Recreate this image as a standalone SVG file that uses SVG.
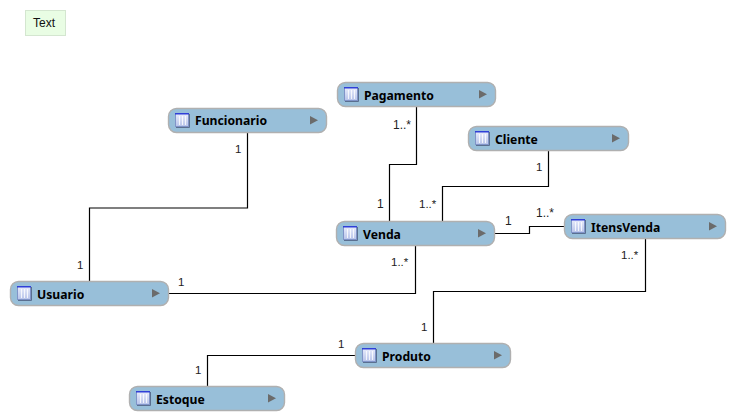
<svg xmlns="http://www.w3.org/2000/svg" width="735" height="420" viewBox="0 0 735 420">
<style>
.box{fill:#98bfd9;stroke:#b0b0b0;stroke-width:1.4}
.name{font:bold 12.2px "Noto Sans","DejaVu Sans",sans-serif;fill:#000}
.c{fill:none;stroke:#000;stroke-width:1.2}
.l{font:11.500px "Liberation Sans",Arial,sans-serif;fill:#222}
.s{font:12px "Liberation Sans",Arial,sans-serif;fill:#222}
.arr{fill:#6b6b6b}
</style>
<defs>
<linearGradient id="ig" x1="0" y1="0" x2="0" y2="1"><stop offset="0" stop-color="#e8ecfb"/><stop offset="1" stop-color="#b8c4ea"/></linearGradient>
<g id="icon">
<rect x="0.5" y="0.5" width="13" height="13" fill="url(#ig)" stroke="#8094c8"/>
<rect x="0" y="0" width="14" height="1.500" fill="#2f3fd8"/>
<path d="M4.500 3V12M7.500 3V12M10.500 3V12" stroke="#fff" stroke-width="1" opacity="0.8"/>
<path d="M1 14.500H14.500V1" fill="none" stroke="#5a6f90" stroke-width="1"/>
</g>
<path id="tri" class="arr" d="M0 0L8 4.250L0 8.500Z"/>
</defs>
<rect width="735" height="420" fill="#fff"/>
<g id="note"><rect x="25.500" y="10.500" width="40" height="25" fill="#e9fde4" stroke="#d4e6d0"/><text x="33" y="27" font-family="Liberation Sans, Arial, sans-serif" font-size="12" fill="#111">Text</text></g>
<g id="connectors">
<path class="c" d="M247.500 133V208H89.500V281"/>
<path class="c" d="M416.500 107V164.500H389.500V221"/>
<path class="c" d="M548.500 151V186.500H442.500V221"/>
<path class="c" d="M495 233.500H529.500V226.500H564"/>
<path class="c" d="M169 293.500H415.500V246"/>
<path class="c" d="M645.500 239V291.500H433.500V343"/>
<path class="c" d="M355 355.500H207.500V386"/>
</g>
<g id="labels">
<text class="l" x="235" y="153">1</text>
<text class="s" x="393" y="129">1..*</text>
<text class="s" x="377" y="208">1</text>
<text class="l" x="419" y="208">1..*</text>
<text class="l" x="536" y="171">1</text>
<text class="s" x="505" y="225">1</text>
<text class="s" x="536" y="217">1..*</text>
<text class="l" x="391" y="266">1..*</text>
<text class="l" x="621" y="259">1..*</text>
<text class="l" x="77" y="269">1</text>
<text class="l" x="178" y="286">1</text>
<text class="l" x="421" y="331">1</text>
<text class="l" x="338" y="348">1</text>
<text class="l" x="195" y="374">1</text>
</g>
<g id="Funcionario"><rect class="box" x="168.500" y="108.500" width="158" height="24" rx="8"/><use href="#icon" x="175" y="113"/><text class="name" x="195" y="125">Funcionario</text><use href="#tri" x="310" y="116"/></g>
<g id="Pagamento"><rect class="box" x="337.500" y="82.500" width="158" height="24" rx="8"/><use href="#icon" x="344" y="87"/><text class="name" x="364" y="100">Pagamento</text><use href="#tri" x="479" y="90"/></g>
<g id="Cliente"><rect class="box" x="468.500" y="126.500" width="160" height="24" rx="8"/><use href="#icon" x="475" y="131"/><text class="name" x="495" y="144">Cliente</text><use href="#tri" x="612" y="134"/></g>
<g id="Venda"><rect class="box" x="336.500" y="221.500" width="158" height="24" rx="8"/><use href="#icon" x="343" y="226"/><text class="name" x="363" y="239">Venda</text><use href="#tri" x="478" y="229"/></g>
<g id="ItensVenda"><rect class="box" x="564.500" y="214.500" width="161" height="24" rx="8"/><use href="#icon" x="571" y="219"/><text class="name" x="591" y="232">ItensVenda</text><use href="#tri" x="709" y="222"/></g>
<g id="Usuario"><rect class="box" x="10.500" y="281.500" width="158" height="24" rx="8"/><use href="#icon" x="17" y="286"/><text class="name" x="37" y="299">Usuario</text><use href="#tri" x="152" y="289"/></g>
<g id="Produto"><rect class="box" x="355.500" y="343.500" width="155" height="24" rx="8"/><use href="#icon" x="362" y="348"/><text class="name" x="382" y="361">Produto</text><use href="#tri" x="494" y="351"/></g>
<g id="Estoque"><rect class="box" x="129.500" y="386.500" width="155" height="24" rx="8"/><use href="#icon" x="136" y="391"/><text class="name" x="156" y="404">Estoque</text><use href="#tri" x="268" y="394"/></g>
</svg>
